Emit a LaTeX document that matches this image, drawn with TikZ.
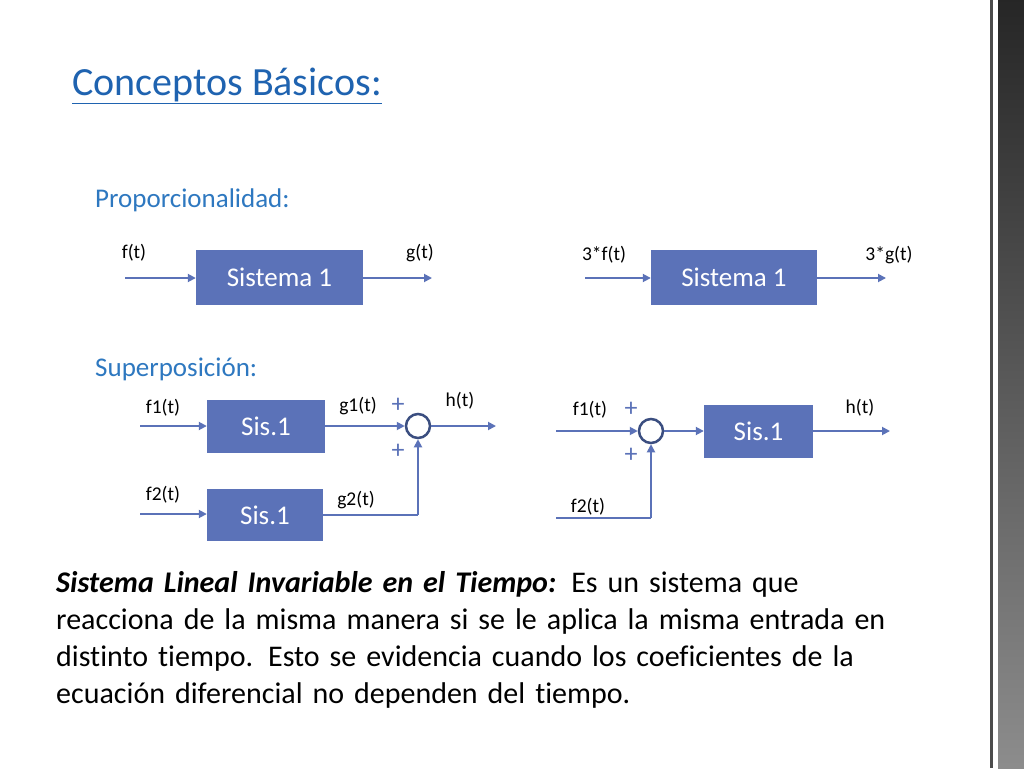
\documentclass[tikz,border=0pt]{standalone}
\usepackage{fontspec}
\setmainfont{Carlito}[Ligatures={NoCommon}]
\usetikzlibrary{arrows.meta}
\definecolor{boxc}{HTML}{5B72B8}
\definecolor{linec}{HTML}{5B72B8}
\definecolor{ringc}{HTML}{3B4E80}
\definecolor{titlec}{HTML}{1F63B0}
\definecolor{subc}{HTML}{2E78C0}
\begin{document}
\begin{tikzpicture}[x=1pt,y=-1pt,
  blk/.style={fill=boxc,text=white,font=\fontsize{27}{30}\selectfont,inner sep=0pt},
  sig/.style={draw=linec,line width=1.8pt,-{Triangle[length=8pt,width=8pt]}},
  wire/.style={draw=linec,line width=1.8pt},
  lab/.style={font=\fontsize{19.5}{22}\selectfont,inner sep=0pt},
  pl/.style={text=linec,font=\fontsize{26}{28}\selectfont,inner sep=0pt},
  sum/.style={circle,draw=ringc,line width=2.5pt,minimum size=24pt,inner sep=0pt},
  sub/.style={text=subc,font=\fontsize{27}{30}\selectfont,anchor=west,inner sep=0pt}]
\useasboundingbox (0,0) rectangle (1024,768);
\fill[white] (0,0) rectangle (1024,768);
% right decoration
\shade[top color=black!85, bottom color=black!45] (998,0) rectangle (1024,768);
\fill[black!70] (990,0) rectangle (992.5,768);
% title
\node[anchor=west,text=titlec,font=\fontsize{40}{44}\selectfont,inner sep=0pt] (title) at (72,86) {\underline{Conceptos Básicos:}};
\node[sub] (prop) at (95,200) {Proporcionalidad:};
% proportionality left
\node[blk,minimum width=167pt,minimum height=55pt] (s1) at (279.5,277.5) {Sistema 1};
\coordinate (i1) at (125,278); \coordinate (o1) at (432,278);
\draw[sig] (i1) -- (s1.west|-i1);
\draw[sig] (s1.east|-o1) -- (o1);
\node[lab] (lf) at (134,253) {f(t)};
\node[lab] (lg) at (420,253) {g(t)};
% proportionality right
\node[blk,minimum width=166pt,minimum height=55pt] (s2) at (734,277.5) {Sistema 1};
\coordinate (i2) at (585,278); \coordinate (o2) at (886,278);
\draw[sig] (i2) -- (s2.west|-i2);
\draw[sig] (s2.east|-o2) -- (o2);
\node[lab] (l3f) at (604,255) {3*f(t)};
\node[lab] (l3g) at (889,255) {3*g(t)};
% superposition
\node[sub] (sup) at (95,369) {Superposición:};
\node[blk,minimum width=118pt,minimum height=53pt] (a1) at (266,426.5) {Sis.1};
\node[blk,minimum width=116pt,minimum height=52pt] (a2) at (265,515) {Sis.1};
\node[sum] (c1) at (418,426) {};
\coordinate (ia1) at (140,426); \coordinate (ia2) at (140,514);
\coordinate (h1) at (496,426); \coordinate (k1) at (418,515);
\draw[sig] (ia1) -- (a1.west|-ia1);
\draw[sig] (ia2) -- (a2.west|-ia2);
\draw[sig] (a1.east|-c1) -- (c1.west);
\draw[sig] (c1.east) -- (h1);
\draw[wire] (a2.east|-k1) -- (k1);
\draw[sig] (k1) -- (c1.south);
\node[lab] (lf1) at (163,408) {f1(t)};
\node[lab] (lf2) at (163,495) {f2(t)};
\node[lab] (lg1) at (358,406) {g1(t)};
\node[lab] (lg2) at (356,500) {g2(t)};
\node[lab] (lh1) at (460,401) {h(t)};
\node[pl] (p1) at (398,405) {+};
\node[pl] (p2) at (398,451) {+};
% right superposition
\node[sum] (c2) at (651,431) {};
\node[blk,minimum width=109pt,minimum height=53pt] (b1) at (758.5,431.5) {Sis.1};
\coordinate (ib1) at (556,431); \coordinate (ib2) at (556,518); \coordinate (k2) at (651,518);
\coordinate (h2) at (890,431);
\draw[sig] (ib1) -- (c2.west);
\draw[wire] (ib2) -- (k2);
\draw[sig] (k2) -- (c2.south);
\draw[sig] (c2.east) -- (b1.west|-c2);
\draw[sig] (b1.east|-h2) -- (h2);
\node[lab] (lf1b) at (590,410) {f1(t)};
\node[lab] (lf2b) at (588,507) {f2(t)};
\node[lab] (lh2) at (860,408) {h(t)};
\node[pl] (p3) at (631,409) {+};
\node[pl] (p4) at (631,455) {+};
% paragraph
\node[anchor=north west,text width=920pt,font=\fontsize{30}{37}\selectfont,inner sep=0pt,align=left] (para) at (56,571)
{\textbf{\textit{Sistema Lineal Invariable en el Tiempo:}} Es un sistema que\\
reacciona de la misma manera si se le aplica la misma entrada en\\
distinto tiempo. Esto se evidencia cuando los coeficientes de la\\
ecuación diferencial no dependen del tiempo.};
\end{tikzpicture}
\end{document}
